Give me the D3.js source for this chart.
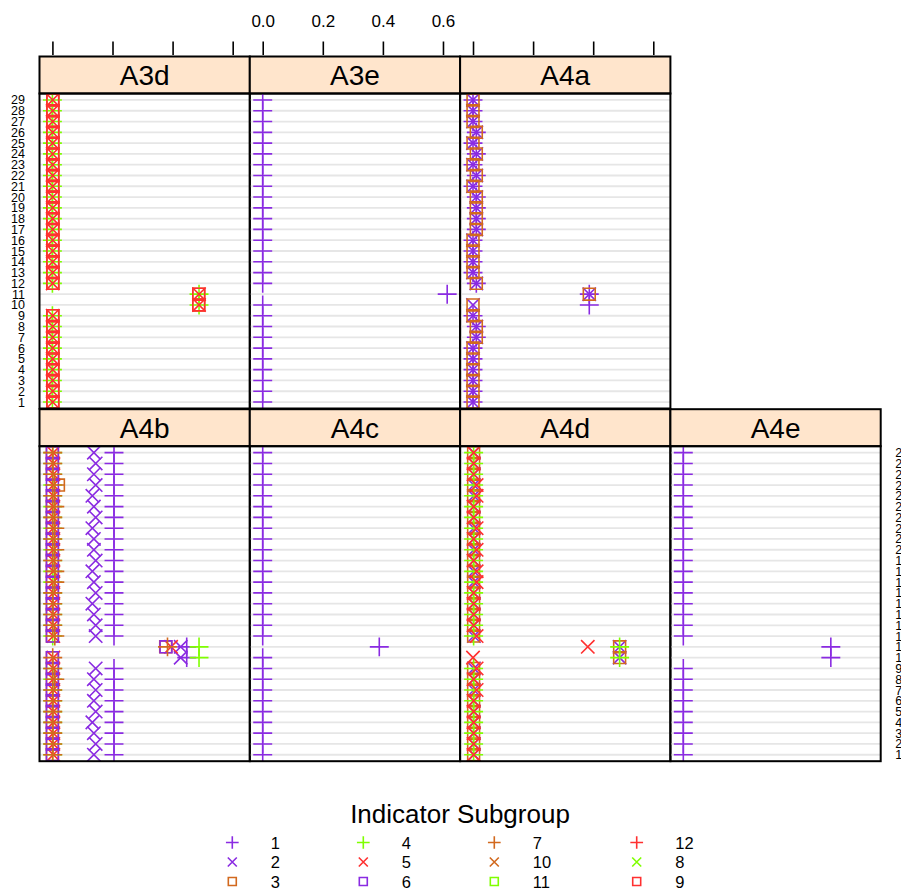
<!DOCTYPE html>
<html>
<head>
<meta charset="utf-8">
<script src="https://cdn.jsdelivr.net/npm/d3@7"></script>
<style>
  body { margin: 0; background: #fff; }
  text { font-family: "Liberation Sans", Arial, Helvetica, sans-serif; }
</style>
</head>
<body>
<div id="chart"></div>
<script>
// ---- data -------------------------------------------------------------
let rowLabels = ["1", "2", "3", "4", "5", "6", "7", "8", "9", "10",
  "11", "12", "13", "14", "15", "16", "17", "18", "19", "20",
  "21", "22", "23", "24", "25", "26", "27", "28", "29"];
let xTicks = [0.0, 0.2, 0.4, 0.6];
let panelNames = ["A3d", "A3e", "A4a", "A4b", "A4c", "A4d", "A4e"];

// subgroups in legend / drawing order
let subgroupIds = [1, 2, 3, 4, 5, 6, 7, 10, 11, 12, 8, 9];
let subgroupShapes = ["plus", "cross", "square", "plus", "cross", "square",
  "plus", "cross", "square", "plus", "cross", "square"];
let subgroupColors = ["#8A2BE2", "#8A2BE2", "#D2691E", "#7FFF00", "#FF3030", "#8A2BE2",
  "#D2691E", "#D2691E", "#7FFF00", "#FF3030", "#7FFF00", "#FF3030"];

// values per panel and subgroup, row 1 first
let A3d_s3 = [0.002, 0.002, 0.002, 0.002, 0.002, 0.002, 0.002, 0.002, 0.002, 0.487, 0.487, 0.002, 0.002, 0.002, 0.002, 0.002, 0.002, 0.002, 0.002, 0.002, 0.002, 0.002, 0.002, 0.002, 0.002, 0.002, 0.002, 0.002, 0.002];
let A3d_s4 = [0, 0, 0, 0, 0, 0, 0, 0, 0, 0.488, 0.488, 0, 0, 0, 0, 0, 0, 0, 0, 0, 0, 0, 0, 0, 0, 0, 0, 0, 0];
let A3d_s5 = [0.001, 0.001, 0.001, 0.001, 0.001, 0.001, 0.001, 0.001, 0.001, 0.488, 0.488, 0.001, 0.001, 0.001, 0.001, 0.001, 0.001, 0.001, 0.001, 0.001, 0.001, 0.001, 0.001, 0.001, 0.001, 0.001, 0.001, 0.001, 0.001];
let A3d_s9 = [0.001, 0.001, 0.001, 0.001, 0.001, 0.001, 0.001, 0.001, 0.001, 0.487, 0.487, 0.001, 0.001, 0.001, 0.001, 0.001, 0.001, 0.001, 0.001, 0.001, 0.001, 0.001, 0.001, 0.001, 0.001, 0.001, 0.001, 0.001, 0.001];

let A3e_s1 = [0, 0, 0, 0, 0, 0, 0, 0, 0, 0, 0.614, 0, 0, 0, 0, 0, 0, 0, 0, 0, 0, 0, 0, 0, 0, 0, 0, 0, 0];

let A4a_s1 = [0, 0, 0, 0, 0, 0, 0.011, 0.011, 0, 0.387, 0.387, 0.011, 0, 0, 0, 0, 0.011, 0.011, 0.011, 0.011, 0, 0.011, 0, 0.011, 0, 0.011, 0, 0, 0];
let A4a_s2 = [0, 0, 0, 0, 0, 0, 0.011, 0.011, 0, 0, 0.387, 0.011, 0, 0, 0, 0, 0.011, 0.011, 0.011, 0.011, 0, 0.011, 0, 0.011, 0, 0.011, 0, 0, 0];
let A4a_s3 = [0, 0, 0, 0, 0, 0, 0.011, 0.011, 0, 0, 0.387, 0.011, 0, 0, 0, 0, 0.011, 0.011, 0.011, 0.011, 0, 0.011, 0, 0.011, 0, 0.011, 0, 0, 0];

let A4b_s1 = [0.205, 0.205, 0.205, 0.205, 0.205, 0.205, 0.205, 0.205, 0.205, 0.447, 0.447, 0.205, 0.205, 0.205, 0.205, 0.205, 0.205, 0.205, 0.205, 0.205, 0.205, 0.205, 0.205, 0.205, 0.205, 0.205, 0.205, 0.205, 0.205];
let A4b_s2 = [0.138, 0.144, 0.138, 0.133, 0.144, 0.138, 0.144, 0.138, 0.144, 0.427, 0.427, 0.144, 0.144, 0.138, 0.133, 0.144, 0.138, 0.133, 0.144, 0.138, 0.138, 0.133, 0.144, 0.138, 0.133, 0.144, 0.138, 0.144, 0.138];
let A4b_s3 = [0, 0, 0, 0, 0, 0, 0, 0, 0, 0, 0.377, 0, 0, 0, 0, 0, 0, 0, 0, 0, 0, 0, 0, 0, 0, 0.02, 0, 0, 0];
let A4b_s4 = [0.001, 0.001, 0.001, 0.001, 0.001, 0.001, 0.001, 0.001, 0.001, 0.488, 0.488, 0.001, 0.001, 0.001, 0.001, 0.001, 0.001, 0.001, 0.001, 0.001, 0.001, 0.001, 0.001, 0.001, 0.001, 0.001, 0.001, 0.001, 0.001];
let A4b_s5 = [0.003, 0.003, 0.003, 0.003, 0.003, 0.003, 0.003, 0.003, 0.003, 0.003, 0.395, 0.003, 0.003, 0.003, 0.003, 0.003, 0.003, 0.003, 0.003, 0.003, 0.003, 0.003, 0.003, 0.003, 0.003, 0.003, 0.003, 0.003, 0.003];
let A4b_s6 = [0, 0, 0, 0, 0, 0, 0, 0, 0, 0, 0.378, 0, 0, 0, 0, 0, 0, 0, 0, 0, 0, 0, 0, 0, 0, 0, 0, 0, 0];
let A4b_s7 = [0.001, 0.001, 0.001, 0.001, 0.001, 0.001, 0.001, 0.008, 0.001, 0.001, 0.383, 0.008, 0.001, 0.001, 0.001, 0.001, 0.008, 0.008, 0.001, 0.008, 0.001, 0.008, 0.001, 0.008, 0.001, 0.008, 0.001, 0.001, 0.001];

let A4c_s1 = [0, 0, 0, 0, 0, 0, 0, 0, 0, 0, 0.388, 0, 0, 0, 0, 0, 0, 0, 0, 0, 0, 0, 0, 0, 0, 0, 0, 0, 0];

let A4d_s2 = [0.003, 0.003, 0.003, 0.003, 0.003, 0.003, 0.003, 0.003, 0.003, 0.488, 0.488, 0.003, 0.003, 0.003, 0.003, 0.003, 0.003, 0.003, 0.003, 0.003, 0.003, 0.003, 0.003, 0.003, 0.003, 0.003, 0.003, 0.003, 0.003];
let A4d_s3 = [0.002, 0.002, 0.002, 0.002, 0.002, 0.002, 0.002, 0.002, 0.002, 0.488, 0.488, 0.002, 0.002, 0.002, 0.002, 0.002, 0.002, 0.002, 0.002, 0.002, 0.002, 0.002, 0.002, 0.002, 0.002, 0.002, 0.002, 0.002, 0.002];
let A4d_s4 = [0.002, 0.002, 0.002, 0.002, 0.002, 0.002, 0.002, 0.002, 0.002, 0.488, 0.488, 0.002, 0.002, 0.002, 0.002, 0.002, 0.002, 0.002, 0.002, 0.002, 0.002, 0.002, 0.002, 0.002, 0.002, 0.002, 0.002, 0.002, 0.002];
let A4d_s5 = [0.002, 0.002, 0.002, 0.002, 0.002, 0.002, 0.012, 0.002, 0.012, 0, 0.382, 0.012, 0.002, 0.002, 0.002, 0.002, 0.012, 0.012, 0.002, 0.012, 0.002, 0.012, 0.002, 0.002, 0.012, 0.012, 0.002, 0.002, 0.002];

let A4e_s1 = [0, 0, 0, 0, 0, 0, 0, 0, 0, 0.491, 0.491, 0, 0, 0, 0, 0, 0, 0, 0, 0, 0, 0, 0, 0, 0, 0, 0, 0, 0];

let panelSeries = [
  { 3: A3d_s3, 4: A3d_s4, 5: A3d_s5, 9: A3d_s9 },
  { 1: A3e_s1 },
  { 1: A4a_s1, 2: A4a_s2, 3: A4a_s3 },
  { 1: A4b_s1, 2: A4b_s2, 3: A4b_s3, 4: A4b_s4, 5: A4b_s5, 6: A4b_s6, 7: A4b_s7 },
  { 1: A4c_s1 },
  { 2: A4d_s2, 3: A4d_s3, 4: A4d_s4, 5: A4d_s5 },
  { 1: A4e_s1 },
];

// ---- layout -------------------------------------------------------------
let width = 901;
let height = 888;
let plotLeft = 39.5;
let panelW = 210.3;
let stripH = 37;
let panelH = 315;
let rowTops = [56.5, 409.2]; // top of strip for each row of panels
// [row, col] of each panel
let panelPos = [[0, 0], [0, 1], [0, 2], [1, 0], [1, 1], [1, 2], [1, 3]];

let symR = 6.7; // symbol "radius" in panels
let legR = 4.5;

let allVals = panelSeries.flatMap((s) => Object.values(s).flat());
let [xMin, xMax] = d3.extent(allVals);
let xPad = 0.07 * (xMax - xMin);

let x = d3.scaleLinear().domain([xMin - xPad, xMax + xPad]).range([0, panelW]);
let y = d3.scaleLinear().domain([0.4, rowLabels.length + 0.6]).range([panelH, 0]);

function symbolPath(shape, r) {
  if (shape === "plus") {
    let a = r * Math.SQRT2;
    return `M${-a},0H${a}M0,${-a}V${a}`;
  }
  if (shape === "cross") {
    return `M${-r},${-r}L${r},${r}M${-r},${r}L${r},${-r}`;
  }
  let s = r * 0.886;
  return `M${-s},${-s}H${s}V${s}H${-s}Z`;
}

let svg = d3
  .select("#chart")
  .append("svg")
  .attr("width", width)
  .attr("height", height)
  .style("background", "#fff");

svg.append("defs")
  .append("clipPath")
  .attr("id", "panelClip")
  .append("rect")
  .attr("width", panelW)
  .attr("height", panelH);

panelNames.forEach(function (name, p) {
  let [row, col] = panelPos[p];
  let g = svg
    .append("g")
    .attr("transform", `translate(${plotLeft + col * panelW},${rowTops[row]})`);

  // strip
  g.append("rect")
    .attr("width", panelW)
    .attr("height", stripH)
    .attr("fill", "#ffe5cc")
    .attr("stroke", "#000")
    .attr("stroke-width", 2);
  g.append("text")
    .attr("x", panelW / 2)
    .attr("y", stripH / 2 + 10)
    .attr("text-anchor", "middle")
    .attr("font-size", 28)
    .text(name);

  let body = g.append("g").attr("transform", `translate(0,${stripH})`);
  let inner = body.append("g").attr("clip-path", "url(#panelClip)");

  // reference lines for each row
  inner
    .selectAll("line.grid")
    .data(rowLabels)
    .enter()
    .append("line")
    .attr("class", "grid")
    .attr("x1", 0)
    .attr("x2", panelW)
    .attr("y1", (d, i) => y(i + 1))
    .attr("y2", (d, i) => y(i + 1))
    .attr("stroke", "#e6e6e6")
    .attr("stroke-width", 1.8);

  subgroupIds.forEach(function (id, k) {
    let vals = panelSeries[p][id];
    if (!vals) return;
    inner
      .append("g")
      .selectAll("path")
      .data(vals)
      .enter()
      .filter((v) => v != null)
      .append("path")
      .attr("transform", (v, i) => `translate(${x(v)},${y(i + 1)})`)
      .attr("d", symbolPath(subgroupShapes[k], symR))
      .attr("fill", "none")
      .attr("stroke", subgroupColors[k])
      .attr("stroke-width", 1.6);
  });

  body
    .append("rect")
    .attr("width", panelW)
    .attr("height", panelH)
    .attr("fill", "none")
    .attr("stroke", "#000")
    .attr("stroke-width", 2);

  // top axis above the top row, labels only on the middle column
  if (row === 0) {
    let ax = g.append("g")
      .attr("transform", "translate(0,-1.5)")
      .call(
        d3.axisTop(x)
          .tickValues(xTicks)
          .tickSize(13.5)
          .tickPadding(14.8)
          .tickFormat(col === 1 ? d3.format(".1f") : () => "")
      );
    ax.select(".domain").remove();
    ax.selectAll("line").attr("stroke-width", 1.6);
    ax.selectAll("text")
      .attr("font-size", 17)
      .attr("fill", "#000")
      .style("font-family", '"Liberation Sans", Arial, sans-serif');
  }

  // row labels: left of first column (top row), right of last column (bottom row)
  let yAxis = null;
  if (row === 0 && col === 0) {
    yAxis = d3.axisLeft(y);
  } else if (row === 1 && col === 3) {
    yAxis = d3.axisRight(y);
  }
  if (yAxis) {
    let ay = body
      .append("g")
      .attr("transform", `translate(${yAxis === null ? 0 : row === 1 ? panelW : 0},0)`)
      .call(
        yAxis
          .tickValues(rowLabels.map((d, i) => i + 1))
          .tickSize(0)
          .tickPadding(14.5)
          .tickFormat((d) => rowLabels[d - 1])
      );
    ay.select(".domain").remove();
    ay.selectAll("text")
      .attr("font-size", 12.5)
      .attr("fill", "#000")
      .style("font-family", '"Liberation Sans", Arial, sans-serif');
  }
});

// ---- legend -------------------------------------------------------------
let legend = svg.append("g");
legend
  .append("text")
  .attr("x", 460)
  .attr("y", 823)
  .attr("text-anchor", "middle")
  .attr("font-size", 26)
  .text("Indicator Subgroup");

let legColX = [232.3, 363.3, 494.3, 636.7];
let legRowY = [842.5, 862, 881.5];

let items = legend
  .selectAll("g.item")
  .data(subgroupIds)
  .enter()
  .append("g")
  .attr("class", "item")
  .attr("transform", (d, i) =>
    `translate(${legColX[Math.floor(i / 3)]},${legRowY[i % 3]})`
  );
items
  .append("path")
  .attr("d", (d, i) => symbolPath(subgroupShapes[i], legR))
  .attr("fill", "none")
  .attr("stroke", (d, i) => subgroupColors[i])
  .attr("stroke-width", 1.6);
items
  .append("text")
  .attr("x", 38.5)
  .attr("y", 6)
  .attr("font-size", 16.5)
  .text((d) => d);
</script>
</body>
</html>
